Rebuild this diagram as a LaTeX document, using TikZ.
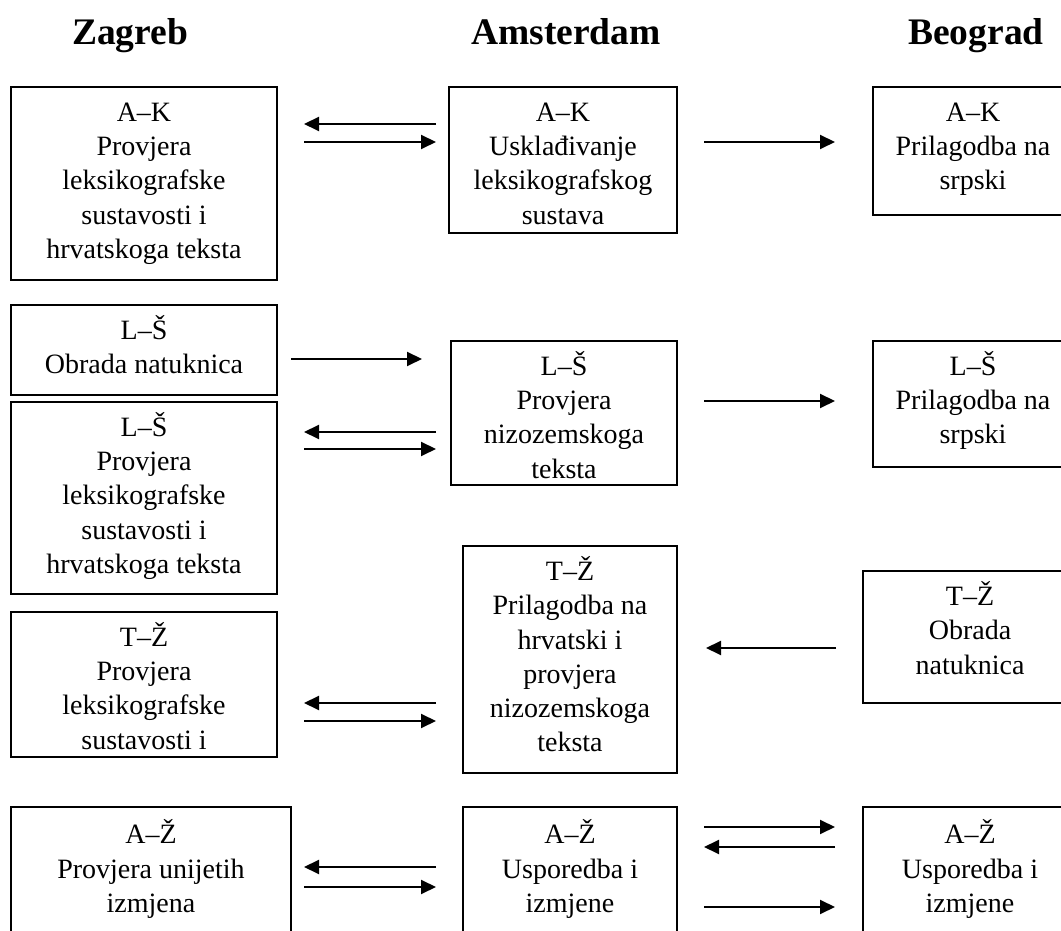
\documentclass[tikz,border=0pt]{standalone}
\usepackage{fontspec}
\setmainfont{Liberation Serif}
\usetikzlibrary{arrows.meta, fit}

\begin{document}
\begin{tikzpicture}[x=0.4pt, y=-0.4pt,
        box/.style={draw, line width=0.8pt, inner sep=0pt},
        lbl/.style={anchor=north, inner sep=0pt, align=center,
            font=\fontsize{11.2}{13.7}\selectfont},
        city/.style={anchor=base, inner sep=0pt, font=\fontsize{15}{18}\selectfont\bfseries},
        arr/.style={-{Triangle[length=6pt, width=5.6pt]}, line width=0.8pt}]

        \useasboundingbox (0,0) rectangle (1061,931);
        \clip (0,0) rectangle (1061,931);

        % Headers
        \node[city] (zg) at (130,45) {Zagreb};
        \node[city] (ams) at (566,45) {Amsterdam};
        \node[city] (bg) at (976,45) {Beograd};

        % Boxes
        \node[box, fit={(11,87) (277,280)}] (z1) {};
        \node[box, fit={(449,87) (677,233)}] (m1) {};
        \node[box, fit={(873,87) (1073,215)}] (b1) {};
        \node[box, fit={(11,305) (277,395)}] (z2) {};
        \node[box, fit={(11,402) (277,594)}] (z3) {};
        \node[box, fit={(451,341) (677,485)}] (m2) {};
        \node[box, fit={(873,341) (1073,467)}] (b2) {};
        \node[box, fit={(11,612) (277,757)}] (z4) {};
        \node[box, fit={(463,546) (677,773)}] (m3) {};
        \node[box, fit={(863,571) (1077,703)}] (b3) {};
        \node[box, fit={(11,807) (291,960)}] (z5) {};
        \node[box, fit={(463,807) (677,960)}] (m4) {};
        \node[box, fit={(863,807) (1077,960)}] (b4) {};

        % Texts
        \node[lbl] (z1t) at (z1.north) {\rule{0pt}{14pt}A–K\\Provjera\\leksikografske\\sustavosti i\\hrvatskoga teksta};
        \node[lbl] (m1t) at (m1.north) {\rule{0pt}{14pt}A–K\\Usklađivanje\\leksikografskog\\sustava};
        \node[lbl] (b1t) at (b1.north) {\rule{0pt}{14pt}A–K\\Prilagodba na\\srpski};
        \node[lbl] (z2t) at (z2.north) {\rule{0pt}{14pt}L–Š\\Obrada natuknica};
        \node[lbl] (z3t) at (z3.north) {\rule{0pt}{14pt}L–Š\\Provjera\\leksikografske\\sustavosti i\\hrvatskoga teksta};
        \node[lbl] (m2t) at (m2.north) {\rule{0pt}{14pt}L–Š\\Provjera\\nizozemskoga\\teksta};
        \node[lbl] (b2t) at (b2.north) {\rule{0pt}{14pt}L–Š\\Prilagodba na\\srpski};
        \node[lbl] (z4t) at (z4.north) {\rule{0pt}{14pt}T–Ž\\Provjera\\leksikografske\\sustavosti i};
        \node[lbl] (m3t) at (m3.north) {\rule{0pt}{14pt}T–Ž\\Prilagodba na\\hrvatski i\\provjera\\nizozemskoga\\teksta};
        \node[lbl] (b3t) at (b3.north) {\rule{0pt}{14pt}T–Ž\\Obrada\\natuknica};
        \node[lbl] (z5t) at (z5.north) {\rule{0pt}{15pt}A–Ž\\Provjera unijetih\\izmjena};
        \node[lbl] (m4t) at (m4.north) {\rule{0pt}{15pt}A–Ž\\Usporedba i\\izmjene};
        \node[lbl] (b4t) at (b4.north) {\rule{0pt}{15pt}A–Ž\\Usporedba i\\izmjene};

        % Arrows
        \draw[arr, shorten <=4.8pt, shorten >=10.4pt] (m1.west |- 0,124) -- (z1.east |- 0,124);
        \draw[arr, shorten <=10.4pt, shorten >=4.8pt] (z1.east |- 0,142) -- (m1.west |- 0,142);
        \draw[arr, shorten <=10.4pt, shorten >=14.8pt] (m1.east |- 0,142) -- (b1.west |- 0,142);

        \draw[arr, shorten <=5.2pt, shorten >=11.2pt] (z2.east |- 0,359) -- (m2.west |- 0,359);
        \draw[arr, shorten <=5.6pt, shorten >=10.4pt] (m2.west |- 0,432) -- (z3.east |- 0,432);
        \draw[arr, shorten <=10.4pt, shorten >=5.6pt] (z3.east |- 0,449) -- (m2.west |- 0,449);
        \draw[arr, shorten <=10.4pt, shorten >=14.8pt] (m2.east |- 0,401) -- (b2.west |- 0,401);

        \draw[arr, shorten <=10.4pt, shorten >=11.2pt] (b3.west |- 0,648) -- (m3.east |- 0,648);
        \draw[arr, shorten <=10.4pt, shorten >=10.4pt] (m3.west |- 0,703) -- (z4.east |- 0,703);
        \draw[arr, shorten <=10.4pt, shorten >=10.4pt] (z4.east |- 0,721) -- (m3.west |- 0,721);

        \draw[arr, shorten <=10.4pt, shorten >=4.8pt] (m4.west |- 0,867) -- (z5.east |- 0,867);
        \draw[arr, shorten <=4.8pt, shorten >=10.4pt] (z5.east |- 0,887) -- (m4.west |- 0,887);
        \draw[arr, shorten <=10.4pt, shorten >=10.8pt] (m4.east |- 0,827) -- (b4.west |- 0,827);
        \draw[arr, shorten <=10.8pt, shorten >=10.4pt] (b4.west |- 0,847) -- (m4.east |- 0,847);
        \draw[arr, shorten <=10.4pt, shorten >=10.8pt] (m4.east |- 0,907) -- (b4.west |- 0,907);
\end{tikzpicture}
\end{document}
